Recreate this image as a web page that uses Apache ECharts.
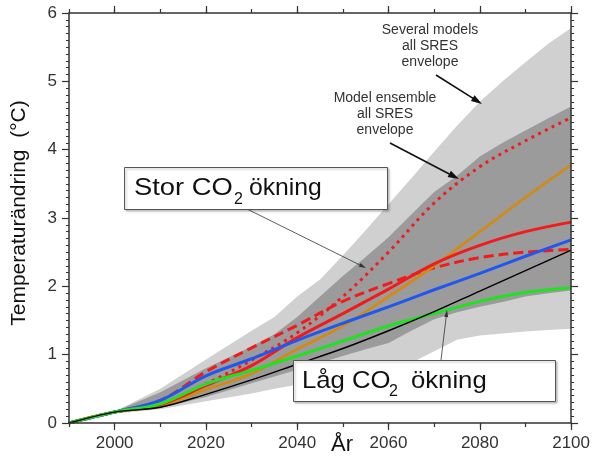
<!DOCTYPE html>
<html><head><meta charset="utf-8">
<script src="https://cdn.jsdelivr.net/npm/echarts@6/dist/echarts.min.js"></script>
<style>html,body{margin:0;padding:0;background:#fff}#c{width:593px;height:459px}</style>
</head><body><div id="c"></div>
<script>
// ---- data ----
const envYears   = [1990,2000,2010,2020,2030,2035,2040,2045,2050,2055,2060,2065,2070,2075,2080,2085,2090,2095,2100];
const outerUpper = [0,0.17,0.50,0.93,1.35,1.55,1.85,2.10,2.45,2.82,3.20,3.58,3.97,4.35,4.70,5.00,5.28,5.55,5.78];
const outerLower = [0,0.14,0.20,0.32,0.43,0.50,0.56,0.63,0.70,0.76,0.82,0.88,1.05,1.22,1.28,1.31,1.34,1.36,1.38];
const innerUpper = [0,0.17,0.45,0.80,1.12,1.30,1.55,1.85,2.15,2.43,2.72,3.05,3.38,3.62,3.90,4.10,4.28,4.46,4.63];
const innerLower = [0,0.16,0.22,0.38,0.58,0.68,0.78,0.88,0.98,1.08,1.17,1.35,1.52,1.62,1.70,1.77,1.85,1.90,1.94];

const lineYears  = [1990,2000,2010,2020,2030,2040,2050,2060,2070,2080,2090,2100];
const blackLine  = [0,0.16,0.23,0.42,0.63,0.86,1.09,1.35,1.63,1.93,2.23,2.53];
const greenLine  = [0,0.16,0.28,0.57,0.77,0.98,1.20,1.42,1.60,1.78,1.91,1.98];
const blueLine   = [0,0.16,0.33,0.69,0.94,1.21,1.46,1.70,1.95,2.19,2.44,2.68];
const orangeLine = [0,0.16,0.25,0.49,0.72,1.08,1.42,1.85,2.30,2.80,3.30,3.78];
const redSolid   = [0,0.16,0.27,0.55,0.84,1.25,1.60,1.96,2.33,2.60,2.80,2.94];
const redDashed  = [0,0.16,0.33,0.75,1.10,1.43,1.78,2.04,2.27,2.42,2.50,2.54];
const redDotted  = [0,0.16,0.27,0.57,0.92,1.32,1.85,2.50,3.22,3.75,4.13,4.47];

const xTickLabels = [2000,2020,2040,2060,2080,2100];
const xMinorTicks = [1990,2000,2010,2020,2030,2040,2050,2060,2070,2080,2090,2100];
const yTickLabels = [0,1,2,3,4,5,6];

// ---- helpers ----
const FONT = '"Liberation Sans", Arial, sans-serif';
const AX = '#333';
function pairs(xs, ys){ return xs.map((x,i)=>[x, ys[i]]); }
function band(upper, lower, color, z){
  return {type:'custom', coordinateSystem:'cartesian2d', z, silent:true,
    data:[[envYears[0], 0]],
    renderItem:(params, api)=>{
      const pts=[];
      for(let i=0;i<envYears.length;i++) pts.push(api.coord([envYears[i], upper[i]]));
      for(let i=envYears.length-1;i>=0;i--) pts.push(api.coord([envYears[i], lower[i]]));
      return {type:'polygon', shape:{points:pts}, style:{fill:color}};
    }};
}
function line(ys, color, width, type, z){
  return {type:'line', data:pairs(lineYears, ys), symbol:'none', showSymbol:false,
    smooth:0.35, silent:true, z,
    lineStyle:{color, width, type}};
}
function arrow(x1,y1,x2,y2,w,hl,hw,color){
  const a=Math.atan2(y2-y1,x2-x1);
  const bx=x2-hl*Math.cos(a), by=y2-hl*Math.sin(a);
  const px=-Math.sin(a)*hw/2, py=Math.cos(a)*hw/2;
  return [{type:'line', z:50, shape:{x1,y1,x2:bx+0.3*hl*Math.cos(a),y2:by+0.3*hl*Math.sin(a)}, style:{stroke:color,lineWidth:w}},
          {type:'polygon', z:51, shape:{points:[[x2,y2],[bx+px,by+py],[bx-px,by-py]]}, style:{fill:color}}];
}
function txt(x,y,text,size,opts){
  return Object.assign({type:'text', x, y, z:60, style:Object.assign({text, font:size+'px '+FONT, fill:'#111',
    align:'left', textAlign:'left', verticalAlign:'middle', textVerticalAlign:'middle'}, (opts&&opts.style)||{})},
    opts&&opts.extra||{});
}

const chart = echarts.init(document.getElementById('c'), null, {renderer:'canvas'});

const axisLine = {show:true, lineStyle:{color:AX, width:1.5}};
const tickStyle = {color:AX, width:1.2};
const xBase = {type:'value', min:1990, max:2100, splitLine:{show:false}};

const graphics = [
  txt(19, 213, 'Temperaturändring  (°C)', 21, {style:{align:'center',textAlign:'center'}, extra:{rotation:Math.PI/2}}),
  txt(342, 445, 'År', 22, {style:{align:'center',textAlign:'center'}}),
  {type:'text', x:430, y:22, z:60, style:{text:'Several models\nall SRES\nenvelope', font:'14px '+FONT, fill:'#333',
     align:'center', textAlign:'center', verticalAlign:'top', textVerticalAlign:'top', lineHeight:16}},
  {type:'text', x:385, y:90, z:60, style:{text:'Model ensemble\nall SRES\nenvelope', font:'14px '+FONT, fill:'#333',
     align:'center', textAlign:'center', verticalAlign:'top', textVerticalAlign:'top', lineHeight:16}},
  ...arrow(436,75,482,104,1.6,11,7,'#111'),
  ...arrow(390,143,459,179,1.6,11,7,'#111'),
  ...arrow(247,209,366,268,0.8,7,4,'#333'),
  ...arrow(441,360,447,310,0.8,7,4,'#333'),
  {type:'rect', z:55, shape:{x:124.5,y:167.5,width:263,height:42}, style:{fill:'#fff', stroke:'#555', lineWidth:1,
     shadowColor:'rgba(0,0,0,0.25)', shadowBlur:2, shadowOffsetX:1.5, shadowOffsetY:1.5}},
  {type:'rect', z:55, shape:{x:293.5,y:360.5,width:262,height:41}, style:{fill:'#fff', stroke:'#555', lineWidth:1,
     shadowColor:'rgba(0,0,0,0.25)', shadowBlur:2, shadowOffsetX:1.5, shadowOffsetY:1.5}},
  txt(134, 188, 'Stor CO', 24, {extra:{scaleX:1.14}}),
  txt(234, 200, '2', 16),
  txt(249, 188, 'ökning', 24, {extra:{scaleX:1.03}}),
  txt(302, 381, 'Låg CO', 24, {extra:{scaleX:1.07}}),
  txt(389, 392, '2', 16),
  txt(411, 381, 'ökning', 24, {extra:{scaleX:1.07}})
];

chart.setOption({
  animation:false,
  backgroundColor:'#fff',
  grid:{left:69, right:21, top:13, bottom:36, containLabel:false},
  xAxis:[
    Object.assign({}, xBase, {position:'bottom', axisLine, z:10,
      axisTick:{show:true, customValues:xMinorTicks, length:4, lineStyle:tickStyle},
      axisLabel:{show:true, customValues:xTickLabels, formatter:v=>String(v), fontSize:17, fontFamily:FONT, color:AX, margin:12}}),
    Object.assign({}, xBase, {position:'bottom', axisLine:{show:false}, z:10,
      axisTick:{show:true, customValues:xTickLabels, length:7, lineStyle:tickStyle}, axisLabel:{show:false}}),
    Object.assign({}, xBase, {position:'top', axisLine, z:10,
      axisTick:{show:true, customValues:xMinorTicks, length:4, lineStyle:tickStyle}, axisLabel:{show:false}}),
    Object.assign({}, xBase, {position:'top', axisLine:{show:false}, z:10,
      axisTick:{show:true, customValues:xTickLabels, length:7, lineStyle:tickStyle}, axisLabel:{show:false}})
  ],
  yAxis:[
    {type:'value', min:0, max:6, interval:1, position:'left', axisLine, z:10, splitLine:{show:false},
     axisTick:{show:true, length:7, lineStyle:tickStyle},
     minorTick:{show:true, splitNumber:10, length:3, lineStyle:{color:AX, width:1}},
     axisLabel:{show:true, customValues:yTickLabels, fontSize:17, fontFamily:FONT, color:AX, margin:12}},
    {type:'value', min:0, max:6, interval:1, position:'right', axisLine, z:10, splitLine:{show:false},
     axisTick:{show:true, length:7, lineStyle:tickStyle},
     minorTick:{show:true, splitNumber:10, length:3, lineStyle:{color:AX, width:1}},
     axisLabel:{show:false}}
  ],
  series:[
    band(outerUpper, outerLower, '#d0d0d0', 1),
    band(innerUpper, innerLower, '#9b9b9b', 2),
    line(redDotted, '#f21a1a', 3, [3,4.5], 3),
    line(redDashed, '#f21a1a', 3, [10,5], 3),
    line(orangeLine, '#d4890f', 2.6, 'solid', 3),
    line(redSolid, '#f21a1a', 3, 'solid', 4),
    line(blueLine, '#2157f0', 3, 'solid', 4),
    line(greenLine, '#22e022', 3, 'solid', 4),
    line(blackLine, '#000000', 1.4, 'solid', 5)
  ],
  graphic:graphics
});
</script>
</body></html>
